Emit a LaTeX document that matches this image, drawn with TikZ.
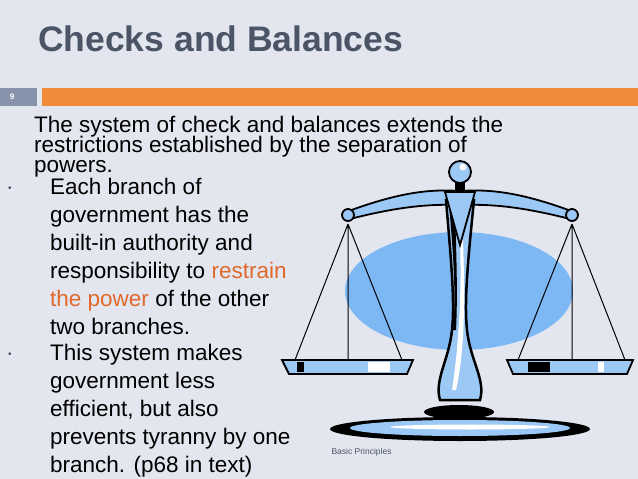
\documentclass[tikz,border=0pt]{standalone}
\usepackage{fontspec}
\setmainfont{Liberation Sans}
\definecolor{bg}{HTML}{E3E6EF}
\definecolor{ttl}{HTML}{4B5566}
\definecolor{org}{HTML}{F18A3A}
\definecolor{num}{HTML}{8793AB}
\definecolor{sky}{HTML}{7DB8F5}
\definecolor{lsky}{HTML}{9CC8F5}
\definecolor{red1}{HTML}{E0682A}
\tikzset{body/.style={anchor=base west,font=\fontsize{22.5}{22}\selectfont,inner sep=0pt},
 blk/.style={draw=black,line width=1.8pt,fill=lsky}}
\begin{document}
\begin{tikzpicture}[x=1pt,y=-1pt]
\fill[bg] (0,0) rectangle (638,479);
\useasboundingbox (0,0) rectangle (638,479);
\node[anchor=base west,inner sep=0pt,text=ttl,font=\fontsize{35.5}{36}\selectfont\bfseries] (t) at (38,52) {Checks and Balances};
\fill[num] (0,88) rectangle (37,106);
\node[text=white,font=\fontsize{8}{9}\selectfont\bfseries] (n) at (12,97) {9};
\fill[org] (42,88) rectangle (638,106);
% scale
\fill[sky] (459,291) ellipse (114 and 59);
\draw[line width=1pt] (348,224) -- (295,360) (348,224) -- (348,360) (348,224) -- (402,360);
\draw[line width=1pt] (572,224) -- (518,360) (572,224) -- (572,360) (572,224) -- (625,360);
\draw[blk] (282,360) -- (413,360) -- (407,374) -- (289,374) -- cycle;
\fill[black] (297,362) rectangle (304,372); \fill[white] (368,362) rectangle (390,372);
\draw[blk] (507,360) -- (633,360) -- (627,374) -- (513,374) -- cycle;
\fill[black] (528,362) rectangle (550,372); \fill[white] (598,362) rectangle (604,372);
\fill[black] (460,429) ellipse (130 and 12);
\fill[lsky] (460,428) ellipse (110 and 8);
\fill[white] (470,427) ellipse (80 and 2.5);
\fill[black] (459,412) ellipse (35 and 7);
\draw[blk] (346,212) .. controls (400,192) and (430,189) .. (460,191) .. controls (490,189) and (520,192) .. (574,212) -- (574,220) .. controls (520,206) and (490,204) .. (460,205) .. controls (430,204) and (400,206) .. (346,220) -- cycle;
\draw[blk] (348,215) circle (6); \draw[blk] (572,215) circle (6);
\draw[blk,line width=2.5pt] (446,200) .. controls (451,260) and (455,300) .. (452,330) .. controls (449,360) and (434,380) .. (440,400) -- (480,400) .. controls (486,380) and (470,360) .. (467,330) .. controls (464,300) and (468,260) .. (474,200) -- cycle;
\fill[black] (449,205) .. controls (454,260) and (456,300) .. (453,330) -- (456,330) .. controls (458,290) and (456,250) .. (455,205) -- cycle;
\fill[white] (460,240) .. controls (462,300) and (458,350) .. (452,390) -- (456,390) .. controls (465,350) and (465,300) .. (463,240) -- cycle;
\draw[blk] (445,192) -- (475,192) -- (460,245) -- cycle;
\fill[black] (455,180) rectangle (465,192);
\draw[blk] (460,172) circle (11);
\fill[white] (463,167) circle (3.5);
\node[anchor=base west,text=ttl,font=\fontsize{8.5}{10}\selectfont] (bp) at (328,454) {Basic Principles};
% text
\node[body] (i1) at (34,132) {The system of check and balances extends the};
\node[body] (i2) at (34,152) {restrictions established by the separation of};
\node[body] (i3) at (34,172) {powers.};
\node[body] (l1) at (50,194) {Each branch of};
\node[body] (l2) at (50,222) {government has the};
\node[body] (l3) at (50,250) {built-in authority and};
\node[body] (l4) at (50,278) {responsibility to \textcolor{red1}{restrain}};
\node[body] (l5) at (50,306) {\textcolor{red1}{the power} of the other};
\node[body] (l6) at (50,334) {two branches.};
\node[body] (l7) at (50,360) {This system makes};
\node[body] (l8) at (50,388) {government less};
\node[body] (l9) at (50,416) {efficient, but also};
\node[body] (l10) at (50,444) {prevents tyranny by one};
\node[body] (l11) at (50,472) {branch. (p68 in text)};
\node[anchor=base west,inner sep=0pt,font=\fontsize{10}{10}\selectfont,text=ttl] (b1) at (8,191) {•};
\node[anchor=base west,inner sep=0pt,font=\fontsize{10}{10}\selectfont,text=ttl] (b2) at (8,357) {•};
\end{tikzpicture}
\end{document}
